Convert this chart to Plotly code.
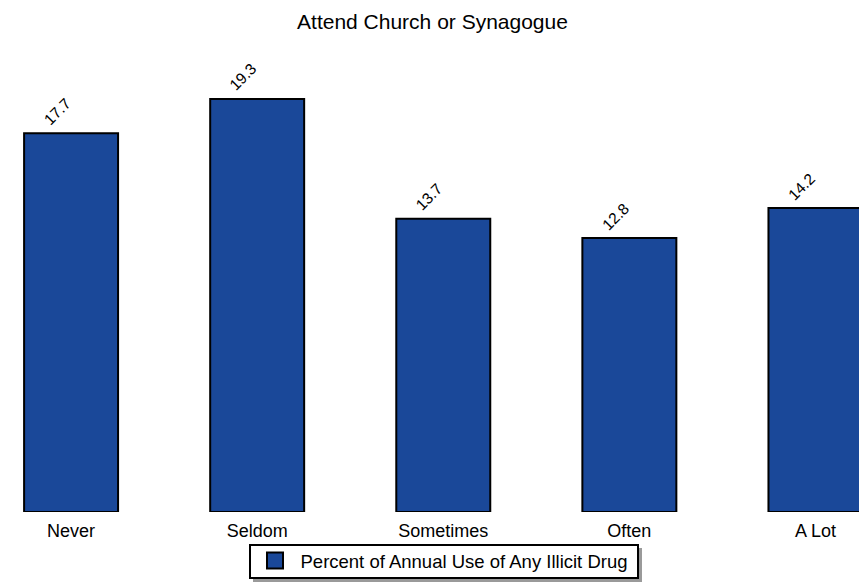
import plotly.graph_objects as go

categories = ["Never", "Seldom", "Sometimes", "Often", "A Lot"]
values = [17.7, 19.3, 13.7, 12.8, 14.2]
series_name = "Percent of Annual Use of Any Illicit Drug"
title_text = "Attend Church or Synagogue"

BAR_COLOR = "#1a4899"
FONT = "Liberation Sans, Arial, sans-serif"

fig = go.Figure()
fig.add_trace(go.Bar(
    x=list(range(len(categories))),
    y=values,
    name=series_name,
    marker=dict(color=BAR_COLOR, line=dict(color="black", width=2)),
    showlegend=False,
))
# legend-only entry with a larger square swatch
fig.add_trace(go.Scatter(
    x=[None], y=[None], mode="markers", name=series_name,
    marker=dict(symbol="square", size=16, color=BAR_COLOR, line=dict(color="black", width=2)),
    showlegend=True,
))

for i, v in enumerate(values):
    fig.add_annotation(
        x=i, y=v, text=f"{v}", showarrow=False, textangle=-45,
        xanchor="center", yanchor="middle", yshift=22, xshift=-14,
        font=dict(family=FONT, size=15.5, color="black"),
    )

# legend frame + drop shadow (paper coords; plot spans full width, 76..504 px vertically)
def py(fy):
    return (504 - fy) / 428

def px(fx):
    return fx / 867

fig.add_shape(type="rect", xref="paper", yref="paper",
              x0=px(245), x1=px(634), y0=py(574), y1=py(540),
              fillcolor="#9a9a9a", line=dict(width=0), layer="below")
fig.add_shape(type="rect", xref="paper", yref="paper",
              x0=px(242), x1=px(630), y0=py(570), y1=py(537),
              fillcolor="white", line=dict(color="black", width=2), layer="below")

fig.update_layout(
    width=867, height=588,
    margin=dict(l=0, r=0, t=76, b=84),
    paper_bgcolor="white", plot_bgcolor="white",
    title=dict(text=title_text, x=0.4896, xanchor="center", y=0.976, yanchor="middle",
               font=dict(family=FONT, size=21, color="black")),
    bargap=0.495,
    xaxis=dict(tickmode="array", tickvals=list(range(len(categories))), ticktext=categories,
               range=[-0.339, 4.32], showgrid=False, zeroline=False, showline=False,
               ticks="", ticklabelstandoff=6,
               tickfont=dict(family=FONT, size=18, color="black")),
    yaxis=dict(range=[0, 20], visible=False, showgrid=False, zeroline=False),
    legend=dict(orientation="h", x=0.5, xanchor="center", y=-0.070, yanchor="top",
                bgcolor="rgba(0,0,0,0)", borderwidth=0, itemsizing="trace", itemwidth=41,
                font=dict(family=FONT, size=18.5, color="black")),
    showlegend=True,
)

fig.write_html("out.html")
